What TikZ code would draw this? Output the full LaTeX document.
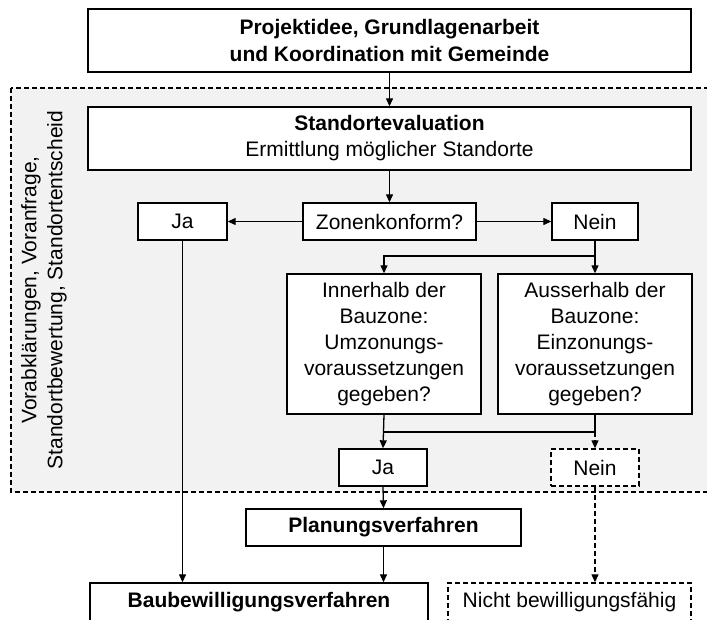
\documentclass[tikz,border=0pt]{standalone}
\usepackage{fontspec}
\setmainfont{Liberation Sans}
\usetikzlibrary{arrows.meta}
\definecolor{regionbg}{RGB}{242,242,242}
\begin{document}
\begin{tikzpicture}[x=1pt,y=-1pt,
  every node/.style={font=\fontsize{21}{26}\selectfont},
  box/.style={draw=black,line width=1.4pt,fill=white,inner sep=0pt,align=center},
  dbox/.style={box,dash pattern=on 5pt off 3pt},
  conn/.style={line width=1.3pt,-{Triangle[length=8pt,width=7pt]}},
  plain/.style={line width=1.3pt},
  dconn/.style={conn,dash pattern=on 5pt off 3pt}]
\path[use as bounding box,clip] (0,0) rectangle (707,619);
\fill[white] (0,0) rectangle (707,619);
% region
\draw[fill=regionbg,line width=1.2pt,dash pattern=on 5pt off 3pt] (11,88) rectangle (740,492);
\node[rotate=90,align=center] (side) at (44,290) {Vorabklärungen, Voranfrage,\\Standortbewertung, Standortentscheid};
% nodes
\node[box,minimum width=603pt,minimum height=63pt,font=\fontsize{21}{27}\selectfont\bfseries] (top) at (389.5,40.5) {Projektidee, Grundlagenarbeit\\und Koordination mit Gemeinde};
\node[box,minimum width=603pt,minimum height=63pt] (std) at (389.5,138.5) {\textbf{Standortevaluation}\\Ermittlung möglicher Standorte};
\node[box,minimum width=173pt,minimum height=37pt] (zon) at (389.5,221.5) {Zonenkonform?};
\node[box,minimum width=89pt,minimum height=37pt] (ja1) at (182.5,221.5) {Ja};
\node[box,minimum width=86pt,minimum height=37pt] (nein1) at (595,221.5) {Nein};
\node[box,minimum width=194pt,minimum height=140pt] (inner) at (384,344) {Innerhalb der\\Bauzone:\\Umzonungs-\\voraussetzungen\\gegeben?};
\node[box,minimum width=194pt,minimum height=140pt] (auss) at (595,344) {Ausserhalb der\\Bauzone:\\Einzonungs-\\voraussetzungen\\gegeben?};
\node[box,minimum width=88pt,minimum height=37pt] (ja2) at (383,467.5) {Ja};
\node[dbox,minimum width=88pt,minimum height=37pt] (nein2) at (595,467.5) {Nein};
\node[box,minimum width=275pt,minimum height=37pt,font=\fontsize{21}{26}\selectfont\bfseries] (plan) at (383.5,527.5) {Planungsverfahren};
\node[box,minimum width=338pt,minimum height=38pt,font=\fontsize{21}{26}\selectfont\bfseries] (bau) at (259,602) {Baubewilligungsverfahren};
\node[dbox,minimum width=243pt,minimum height=38pt] (nicht) at (569.5,602) {Nicht bewilligungsfähig};
% junctions
\coordinate (j1) at (595,256);
\coordinate (j2) at (595,432);
% connectors
\draw[conn] (top.south) -- (std.north);
\draw[conn] (std.south) -- (zon.north);
\draw[conn] (zon.west) -- (ja1.east);
\draw[conn] (zon.east) -- (nein1.west);
\draw[plain] (nein1.south) -- (j1);
\draw[conn] (j1) -| (inner.north);
\draw[conn] (j1) -- (auss.north);
\draw[plain] (auss.south) -- (j2) -- (inner.south |- j2);
\draw[conn] (inner.south) -- (ja2.north);
\draw[dconn] (j2) -- (nein2.north);
\draw[conn] (ja2.south) -- (plan.north);
\draw[conn] (plan.south) -- (plan.south |- bau.north);
\draw[conn] (ja1.south) -- (ja1.south |- bau.north);
\draw[dconn] (nein2.south) -- (nein2.south |- nicht.north);
\end{tikzpicture}
\end{document}
